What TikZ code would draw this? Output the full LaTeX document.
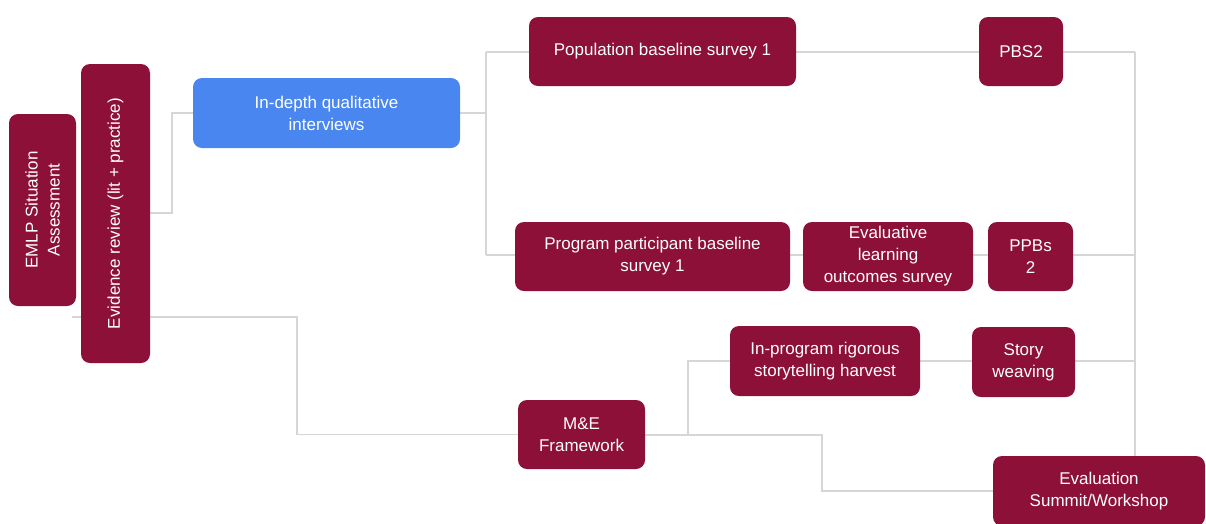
\documentclass[tikz,border=0pt]{standalone}
\usepackage{fontspec}
\setmainfont{Liberation Sans}
\usetikzlibrary{backgrounds}
\definecolor{maroon}{HTML}{8C1038}
\definecolor{gblue}{HTML}{4A86F0}
\definecolor{lgray}{HTML}{D6D6D6}
\tikzset{
  box/.style={draw=none, fill=maroon, rounded corners=9pt, text=white, align=center,
    inner sep=0pt, font=\fontsize{17}{22}\selectfont},
  bluebox/.style={box, fill=gblue},
  vtext/.style={rotate=90, text=white, align=center, font=\fontsize{17}{22}\selectfont},
  link/.style={draw=lgray, line width=1.2pt}
}
\begin{document}
\begin{tikzpicture}[x=1pt,y=-1pt]
\useasboundingbox (0,0) rectangle (1206,523);

% boxes
\node[box, minimum width=67pt, minimum height=192pt] (emlp) at (42.5,210) {};
\node[vtext] (emlpt) at (emlp.center) {EMLP Situation\\Assessment};
\node[box, minimum width=69pt, minimum height=299pt] (evid) at (115.5,213.5) {};
\node[vtext] (evidt) at (evid.center) {Evidence review (lit + practice)};
\node[bluebox, minimum width=267pt, minimum height=70pt] (idqi) at (326.5,113) {In-depth qualitative\\interviews};
\node[box, minimum width=267pt, minimum height=69pt] (pbs1) at (662.5,51.5) {Population baseline survey 1};
\node[box, minimum width=84pt, minimum height=69pt] (pbs2) at (1021,51.5) {PBS2};
\node[box, minimum width=275pt, minimum height=69pt] (pps1) at (652.5,256.5) {Program participant baseline\\survey 1};
\node[box, minimum width=170pt, minimum height=69pt] (elo) at (888,256.5) {Evaluative\\learning\\outcomes survey};
\node[box, minimum width=85pt, minimum height=69pt] (ppbs) at (1030.5,256.5) {PPBs\\2};
\node[box, minimum width=127pt, minimum height=69pt] (mef) at (581.5,434.5) {M\&E\\Framework};
\node[box, minimum width=190pt, minimum height=70pt] (irsh) at (825,361) {In-program rigorous\\storytelling harvest};
\node[box, minimum width=103pt, minimum height=70pt] (sw) at (1023.5,362) {Story\\weaving};
\node[box, minimum width=212pt, minimum height=70pt] (summit) at (1099,491) {Evaluation\\Summit/Workshop};

% junction coordinates
\coordinate (emlpfoot) at (72,317);
\coordinate (evbend) at (172,213);
\coordinate (busLt) at (486,52);
\coordinate (busLb) at (486,255);
\coordinate (busRt) at (1135,52);
\coordinate (busRm) at (1135,255);
\coordinate (busRs) at (1135,361);
\coordinate (meturn) at (297,317);
\coordinate (mesplit) at (688,435);
\coordinate (sumturn) at (822,435);

\begin{scope}[on background layer]
\draw[link] (evid.east |- evbend) -- (evbend) |- (idqi.west);
\draw[link] (idqi.east) -- (idqi.east -| busLt);
\draw[link] (busLt) -- (busLb);
\draw[link] (busLt) -- (pbs1.west |- busLt);
\draw[link] (pbs1.east |- busLt) -- (pbs2.west |- busLt);
\draw[link] (pbs2.east |- busLt) -- (busRt);
\draw[link] (busLb) -- (busRm);
\draw[link] (busRt) -- (summit.north -| busRt);
\draw[link] (emlpfoot) -- (meturn) |- (mef.west);
\draw[link] (mef.east |- mesplit) -- (mesplit) |- (irsh.west);
\draw[link] (irsh.east) -- (sw.west |- irsh.east);
\draw[link] (sw.east |- busRs) -- (busRs);
\draw[link] (mesplit) -- (sumturn) |- (summit.west);
\end{scope}
\end{tikzpicture}
\end{document}
